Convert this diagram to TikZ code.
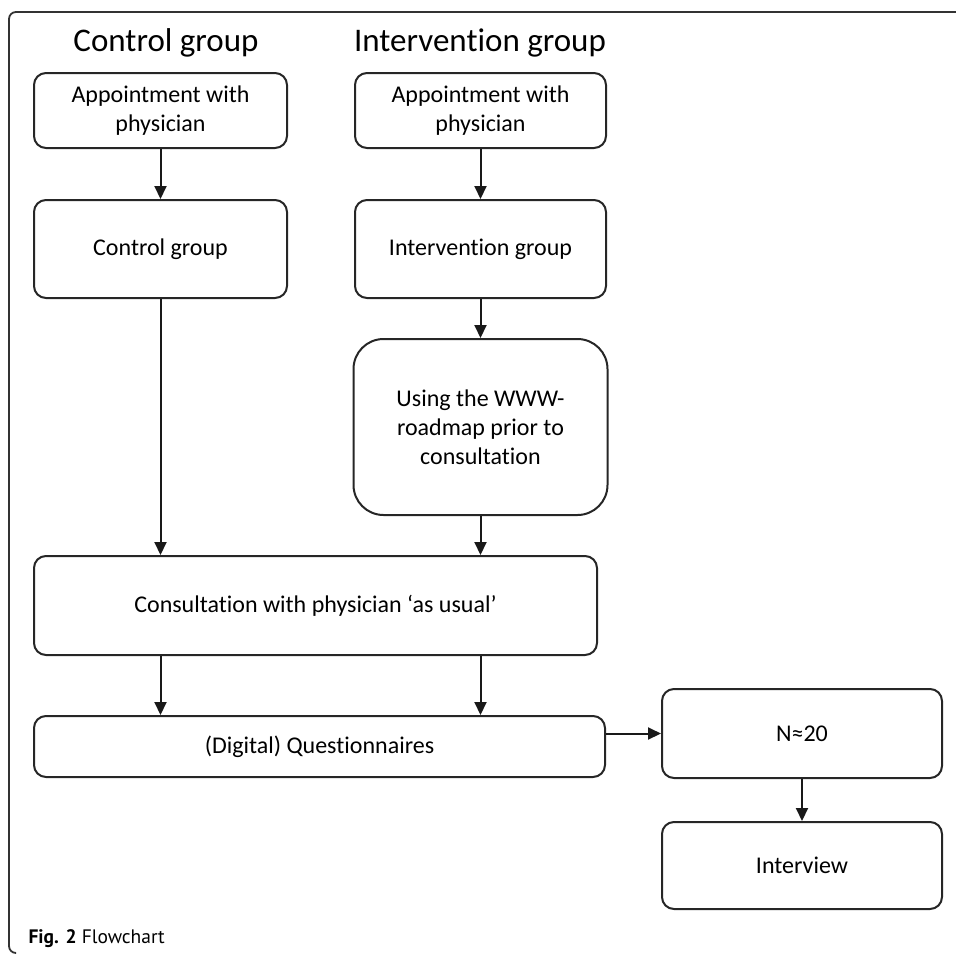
\documentclass[tikz,border=0pt]{standalone}
\usepackage{fontspec}
\setmainfont{Carlito}[Ligatures=NoCommon]
\newfontfamily\capfont{PT Sans}
\usetikzlibrary{arrows.meta}
\begin{document}
\begin{tikzpicture}[x=1pt,y=-1pt,
  box/.style={draw=black!85,line width=2pt,rounded corners=12pt,align=center,
    inner sep=0pt,font=\fontsize{24}{29}\selectfont},
  arr/.style={draw=black!90,line width=2pt,-{Triangle[length=13pt,width=12pt]}},
  head/.style={font=\fontsize{33}{36}\selectfont,anchor=base},
  frame/.style={draw=black!80,line width=1.8pt,rounded corners=7pt}]
\useasboundingbox (0,0) rectangle (956,954);
\draw[frame] (15,953) -- (9,953) -- (9,12) -- (960,12);
\node[head] (hc) at (166,51) {Control group};
\node[head] (hi) at (480,51) {Intervention group};
\node[box,minimum width=253pt,minimum height=75pt] (A1) at (160.5,110.5) {Appointment with\\physician};
\node[box,minimum width=251pt,minimum height=75pt] (A2) at (480.5,110.5) {Appointment with\\physician};
\node[box,minimum width=253pt,minimum height=98pt] (B1) at (160.5,249) {Control group};
\node[box,minimum width=251pt,minimum height=98pt] (B2) at (480.5,249) {Intervention group};
\node[box,rounded corners=30pt,minimum width=254pt,minimum height=176pt] (C) at (480.5,427) {Using the WWW-\\roadmap prior to\\consultation};
\node[box,minimum width=563pt,minimum height=99pt] (D) at (315.5,605.5) {Consultation with physician ‘as usual’};
\node[box,minimum width=571pt,minimum height=61pt] (E) at (319.5,746.5) {(Digital) Questionnaires};
\node[box,minimum width=280pt,minimum height=89pt] (N) at (802,733.5) {\smash{N≈20}\vphantom{N2}};
\node[box,minimum width=280pt,minimum height=87pt] (I) at (802,865.5) {Interview};
\draw[arr] (A1) -- (B1);
\draw[arr] (A2) -- (B2);
\draw[arr] (B2) -- (C);
\draw[arr] (B1.south) -- (B1.south |- D.north);
\draw[arr] (C.south) -- (C.south |- D.north);
\draw[arr] (D.south -| B1.south) -- (E.north -| B1.south);
\draw[arr] (D.south -| C.south) -- (E.north -| C.south);
\draw[arr] (E.east |- N.west) -- (N.west);
\draw[arr] (N) -- (I);
\node[anchor=base west,font=\capfont\fontsize{19.5}{22}\selectfont] (cap) at (25,943) {\textbf{Fig. 2} Flowchart};
\end{tikzpicture}
\end{document}
